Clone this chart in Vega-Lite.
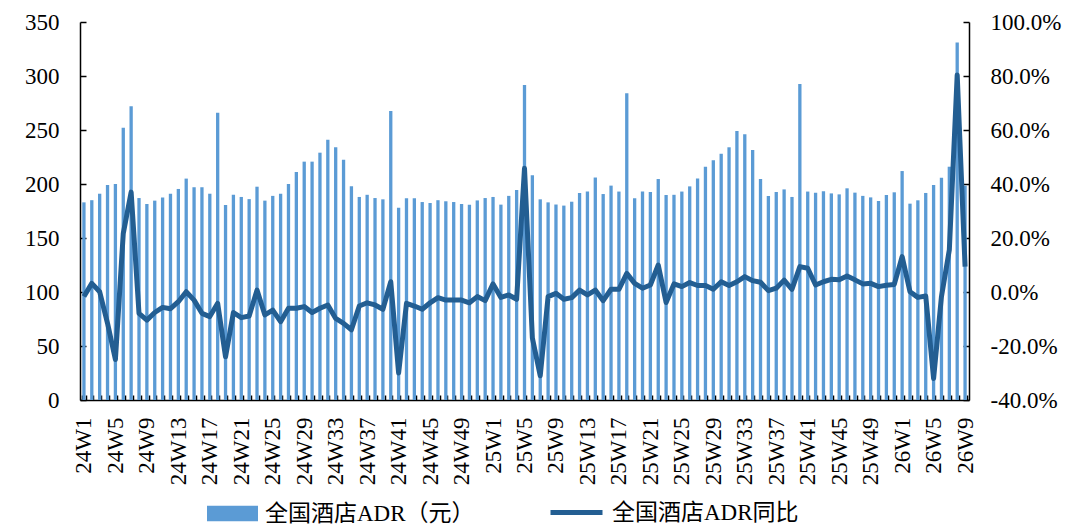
{
  "$schema": "https://vega.github.io/schema/vega-lite/v6.json",
  "autosize": "none",
  "width": 889,
  "height": 378,
  "padding": {"left": 80, "top": 22, "right": 110, "bottom": 130},
  "background": "white",
  "config": {"view": {"stroke": null}},
  "data": {"values": [
    {"w": "24W1", "adr": 183, "yoy": -0.017},
    {"w": "24W2", "adr": 185, "yoy": 0.032},
    {"w": "24W3", "adr": 191, "yoy": 0.001},
    {"w": "24W4", "adr": 199, "yoy": -0.116},
    {"w": "24W5", "adr": 200, "yoy": -0.25},
    {"w": "24W6", "adr": 252, "yoy": 0.217},
    {"w": "24W7", "adr": 272, "yoy": 0.37},
    {"w": "24W8", "adr": 187, "yoy": -0.079},
    {"w": "24W9", "adr": 181.5, "yoy": -0.104},
    {"w": "24W10", "adr": 184.6, "yoy": -0.076},
    {"w": "24W11", "adr": 187.6, "yoy": -0.057},
    {"w": "24W12", "adr": 191, "yoy": -0.062},
    {"w": "24W13", "adr": 195.4, "yoy": -0.036},
    {"w": "24W14", "adr": 205, "yoy": 0.001},
    {"w": "24W15", "adr": 197, "yoy": -0.03},
    {"w": "24W16", "adr": 197, "yoy": -0.079},
    {"w": "24W17", "adr": 191, "yoy": -0.091},
    {"w": "24W18", "adr": 266, "yoy": -0.042},
    {"w": "24W19", "adr": 180.5, "yoy": -0.24},
    {"w": "24W20", "adr": 190, "yoy": -0.076},
    {"w": "24W21", "adr": 188, "yoy": -0.095},
    {"w": "24W22", "adr": 186, "yoy": -0.089},
    {"w": "24W23", "adr": 197.5, "yoy": 0.007},
    {"w": "24W24", "adr": 184.6, "yoy": -0.085},
    {"w": "24W25", "adr": 189, "yoy": -0.067},
    {"w": "24W26", "adr": 191, "yoy": -0.11},
    {"w": "24W27", "adr": 200, "yoy": -0.06},
    {"w": "24W28", "adr": 211, "yoy": -0.06},
    {"w": "24W29", "adr": 220.7, "yoy": -0.054},
    {"w": "24W30", "adr": 220.7, "yoy": -0.076},
    {"w": "24W31", "adr": 229, "yoy": -0.06},
    {"w": "24W32", "adr": 241, "yoy": -0.048},
    {"w": "24W33", "adr": 234, "yoy": -0.098},
    {"w": "24W34", "adr": 222.5, "yoy": -0.116},
    {"w": "24W35", "adr": 198, "yoy": -0.14},
    {"w": "24W36", "adr": 188, "yoy": -0.052},
    {"w": "24W37", "adr": 190, "yoy": -0.04},
    {"w": "24W38", "adr": 187, "yoy": -0.048},
    {"w": "24W39", "adr": 185.8, "yoy": -0.064},
    {"w": "24W40", "adr": 267.6, "yoy": 0.038},
    {"w": "24W41", "adr": 178, "yoy": -0.3},
    {"w": "24W42", "adr": 186.7, "yoy": -0.042},
    {"w": "24W43", "adr": 186.7, "yoy": -0.052},
    {"w": "24W44", "adr": 183.3, "yoy": -0.064},
    {"w": "24W45", "adr": 182.4, "yoy": -0.04},
    {"w": "24W46", "adr": 185, "yoy": -0.021},
    {"w": "24W47", "adr": 184, "yoy": -0.03},
    {"w": "24W48", "adr": 183.3, "yoy": -0.03},
    {"w": "24W49", "adr": 181.5, "yoy": -0.03},
    {"w": "24W50", "adr": 180.9, "yoy": -0.04},
    {"w": "24W51", "adr": 184.8, "yoy": -0.017},
    {"w": "24W52", "adr": 187, "yoy": -0.032},
    {"w": "25W1", "adr": 188, "yoy": 0.03},
    {"w": "25W2", "adr": 180.9, "yoy": -0.02},
    {"w": "25W3", "adr": 189, "yoy": -0.011},
    {"w": "25W4", "adr": 194.4, "yoy": -0.027},
    {"w": "25W5", "adr": 291.7, "yoy": 0.458},
    {"w": "25W6", "adr": 208, "yoy": -0.17},
    {"w": "25W7", "adr": 185.8, "yoy": -0.31},
    {"w": "25W8", "adr": 183, "yoy": -0.017},
    {"w": "25W9", "adr": 181, "yoy": -0.005},
    {"w": "25W10", "adr": 180, "yoy": -0.027},
    {"w": "25W11", "adr": 183.6, "yoy": -0.021},
    {"w": "25W12", "adr": 191.7, "yoy": 0.007},
    {"w": "25W13", "adr": 193, "yoy": -0.011},
    {"w": "25W14", "adr": 206, "yoy": 0.007},
    {"w": "25W15", "adr": 190.7, "yoy": -0.032},
    {"w": "25W16", "adr": 198.5, "yoy": 0.01},
    {"w": "25W17", "adr": 193, "yoy": 0.01},
    {"w": "25W18", "adr": 284, "yoy": 0.069},
    {"w": "25W19", "adr": 186.7, "yoy": 0.032},
    {"w": "25W20", "adr": 193, "yoy": 0.014},
    {"w": "25W21", "adr": 192.6, "yoy": 0.026},
    {"w": "25W22", "adr": 204.6, "yoy": 0.1},
    {"w": "25W23", "adr": 189.8, "yoy": -0.039},
    {"w": "25W24", "adr": 190, "yoy": 0.03},
    {"w": "25W25", "adr": 193, "yoy": 0.02},
    {"w": "25W26", "adr": 197.8, "yoy": 0.035},
    {"w": "25W27", "adr": 205, "yoy": 0.024},
    {"w": "25W28", "adr": 216, "yoy": 0.024},
    {"w": "25W29", "adr": 222, "yoy": 0.01},
    {"w": "25W30", "adr": 228, "yoy": 0.038},
    {"w": "25W31", "adr": 234, "yoy": 0.024},
    {"w": "25W32", "adr": 249, "yoy": 0.038},
    {"w": "25W33", "adr": 246, "yoy": 0.057},
    {"w": "25W34", "adr": 231.5, "yoy": 0.042},
    {"w": "25W35", "adr": 204.6, "yoy": 0.036},
    {"w": "25W36", "adr": 189, "yoy": 0.005},
    {"w": "25W37", "adr": 192.6, "yoy": 0.014},
    {"w": "25W38", "adr": 195, "yoy": 0.044},
    {"w": "25W39", "adr": 188, "yoy": 0.01},
    {"w": "25W40", "adr": 292.6, "yoy": 0.094},
    {"w": "25W41", "adr": 193, "yoy": 0.088},
    {"w": "25W42", "adr": 192, "yoy": 0.026},
    {"w": "25W43", "adr": 193.2, "yoy": 0.038},
    {"w": "25W44", "adr": 191.3, "yoy": 0.047},
    {"w": "25W45", "adr": 190.4, "yoy": 0.045},
    {"w": "25W46", "adr": 196, "yoy": 0.059},
    {"w": "25W47", "adr": 192, "yoy": 0.045},
    {"w": "25W48", "adr": 189, "yoy": 0.03},
    {"w": "25W49", "adr": 187.6, "yoy": 0.032},
    {"w": "25W50", "adr": 184.3, "yoy": 0.02},
    {"w": "25W51", "adr": 189.8, "yoy": 0.025},
    {"w": "25W52", "adr": 192.3, "yoy": 0.028},
    {"w": "26W1", "adr": 212, "yoy": 0.131},
    {"w": "26W2", "adr": 181.8, "yoy": 0.001},
    {"w": "26W3", "adr": 184.9, "yoy": -0.02},
    {"w": "26W4", "adr": 191.7, "yoy": -0.015},
    {"w": "26W5", "adr": 199, "yoy": -0.32},
    {"w": "26W6", "adr": 205.9, "yoy": -0.017},
    {"w": "26W7", "adr": 216, "yoy": 0.156},
    {"w": "26W8", "adr": 331, "yoy": 0.804},
    {"w": "26W9", "adr": 198.5, "yoy": 0.094}
  ]},
  "encoding": {
    "x": {
      "field": "w", "type": "nominal", "sort": null,
      "scale": {"paddingInner": 0.58, "paddingOuter": 0.29},
      "axis": {
        "title": null,
        "labelAngle": -90,
        "labelOverlap": false,
        "labelExpr": "(toNumber(split(datum.value,'W')[1]) - 1) % 4 == 0 ? datum.value : ''",
        "labelFont": "'Liberation Serif', 'Times New Roman', serif",
        "labelFontSize": 23,
        "labelColor": "#000000",
        "labelPadding": 22,
        "tickBand": "extent",
        "tickSize": -5,
        "tickColor": "#000000",
        "tickWidth": 1.5,
        "domainColor": "#000000",
        "domainWidth": 1.5
      }
    }
  },
  "layer": [
    {
      "mark": {"type": "bar"},
      "encoding": {
        "y": {
          "field": "adr", "type": "quantitative",
          "scale": {"domain": [0, 350], "nice": false},
          "axis": {
            "title": null, "grid": false,
            "values": [0, 50, 100, 150, 200, 250, 300, 350],
            "labelFont": "'Liberation Serif', 'Times New Roman', serif", "labelFontSize": 23, "labelColor": "#000000",
            "tickSize": -6, "tickColor": "#000000", "tickWidth": 1.5,
            "domainColor": "#000000", "domainWidth": 1.5,
            "labelPadding": 27
          }
        },
        "fill": {
          "datum": "全国酒店ADR（元）", "type": "nominal",
          "scale": {"range": ["#5B9BD5"]},
          "legend": {
            "title": null, "orient": "none", "legendX": 127, "legendY": 466,
            "padding": 0,
            "symbolType": "M-1,-0.3H1V0.3H-1Z", "symbolSize": 2601, "symbolStrokeWidth": 0,
            "labelFont": "'Liberation Serif', 'Noto Sans CJK SC', serif", "labelFontSize": 23, "labelColor": "#000000",
            "labelOffset": 7, "labelLimit": 400
          }
        }
      }
    },
    {
      "mark": {"type": "line", "strokeWidth": 5, "strokeJoin": "round"},
      "encoding": {
        "y": {
          "field": "yoy", "type": "quantitative",
          "scale": {"domain": [-0.4, 1.0], "nice": false},
          "axis": {
            "title": null, "grid": false, "orient": "right",
            "values": [-0.4, -0.2, 0, 0.2, 0.4, 0.6, 0.8, 1.0],
            "labelExpr": "replace(format(datum.value, '.1%'), '\u2212', '-')",
            "labelFont": "'Liberation Serif', 'Times New Roman', serif", "labelFontSize": 23, "labelColor": "#000000",
            "tickSize": -6, "tickColor": "#000000", "tickWidth": 1.5,
            "domainColor": "#000000", "domainWidth": 1.5,
            "labelPadding": 27
          }
        },
        "stroke": {
          "datum": "全国酒店ADR同比", "type": "nominal",
          "scale": {"range": ["#235E92"]},
          "legend": {
            "title": null, "orient": "none", "legendX": 468, "legendY": 462,
            "padding": 0,
            "symbolType": "stroke", "symbolSize": 2704, "symbolStrokeWidth": 5,
            "labelFont": "'Liberation Serif', 'Noto Sans CJK SC', serif", "labelFontSize": 23, "labelColor": "#000000",
            "labelOffset": 7, "labelLimit": 400
          }
        }
      }
    }
  ],
  "resolve": {"scale": {"y": "independent", "fill": "independent", "stroke": "independent"}}
}
